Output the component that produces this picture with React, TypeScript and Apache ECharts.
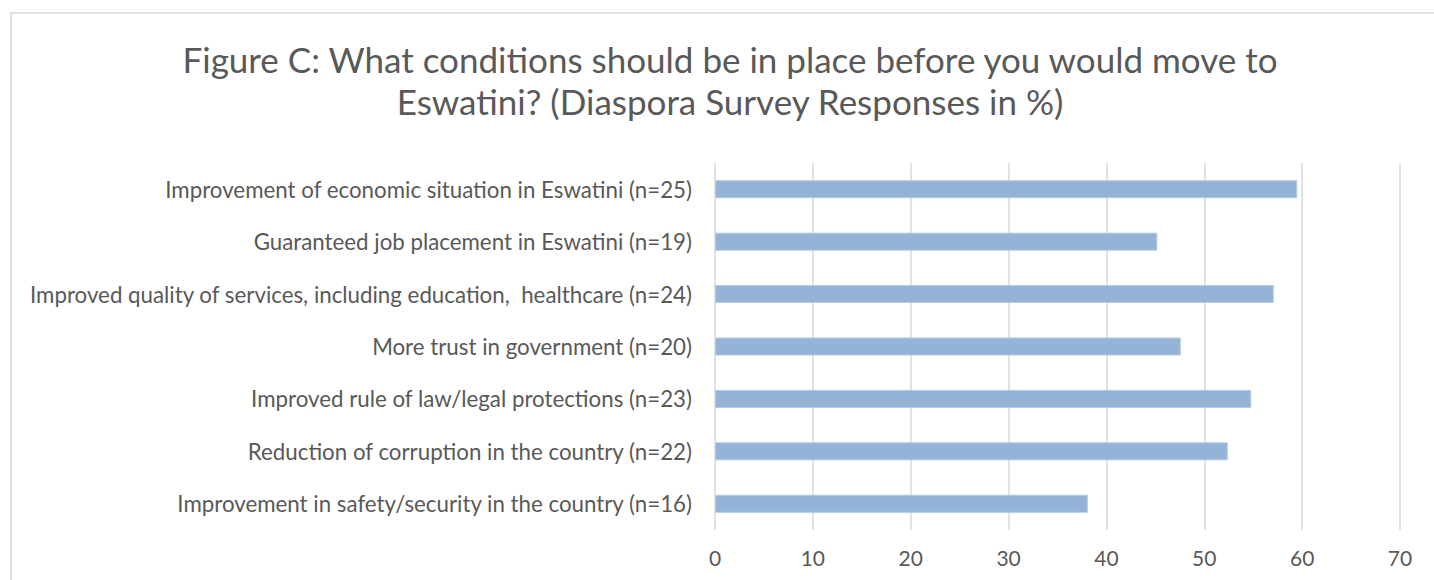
import React, { useEffect, useRef } from "react";
import * as echarts from "echarts";

const titleLines = [
  "Figure C: What conditions should be in place before you would move to",
  "Eswatini? (Diaspora Survey Responses in %)",
];

const categories = [
  "Improvement of economic situation in Eswatini (n=25)",
  "Guaranteed job placement in Eswatini (n=19)",
  "Improved quality of services, including education,  healthcare (n=24)",
  "More trust in government (n=20)",
  "Improved rule of law/legal protections (n=23)",
  "Reduction of corruption in the country (n=22)",
  "Improvement in safety/security in the country (n=16)",
];

const values = [59.5, 45.2, 57.1, 47.6, 54.8, 52.4, 38.1];

const xMin = 0;
const xMax = 70;
const xInterval = 10;

const FONT = "Lato, 'Noto Sans', sans-serif";
const TEXT = "#595959";

export default function App() {
  const ref = useRef<HTMLDivElement>(null);
  useEffect(() => {
    if (!ref.current) return;
    const chart = echarts.init(ref.current, undefined, { renderer: "svg" });
    chart.setOption({
      animation: false,
      backgroundColor: "#ffffff",
      graphic: [
        {
          type: "rect",
          shape: { x: 11, y: 13, width: 1440, height: 600 },
          style: { fill: "none", stroke: "#d9d9d9", lineWidth: 1.5 },
          silent: true,
        },
      ],
      title: {
        text: titleLines.join("\n"),
        left: 725,
        textAlign: "center",
        top: 33,
        textStyle: {
          fontFamily: FONT,
          fontSize: 35,
          fontWeight: "normal",
          color: TEXT,
          lineHeight: 42,
        },
      },
      grid: { left: 715, right: 34, top: 163, bottom: 50, containLabel: false },
      xAxis: {
        type: "value",
        min: xMin,
        max: xMax,
        interval: xInterval,
        axisLine: { show: false },
        axisTick: { show: false },
        splitLine: { show: true, lineStyle: { color: "#d9d9d9", width: 1.5 } },
        axisLabel: {
          fontFamily: FONT,
          fontSize: 21,
          color: TEXT,
          margin: 17,
        },
      },
      yAxis: {
        type: "category",
        data: categories,
        inverse: true,
        axisLine: { show: false },
        axisTick: { show: false },
        axisLabel: {
          fontFamily: FONT,
          fontSize: 22.3,
          color: TEXT,
          margin: 23,
        },
      },
      series: [
        {
          type: "bar",
          data: values,
          barWidth: 18,
          itemStyle: { color: "#95b3d7", borderColor: "#b4c9e3", borderWidth: 1 },
        },
      ],
    });
    return () => chart.dispose();
  }, []);
  return (
    <div
      ref={ref}
      style={{ position: "fixed", left: 0, top: 0, width: 1434, height: 580 }}
    />
  );
}
